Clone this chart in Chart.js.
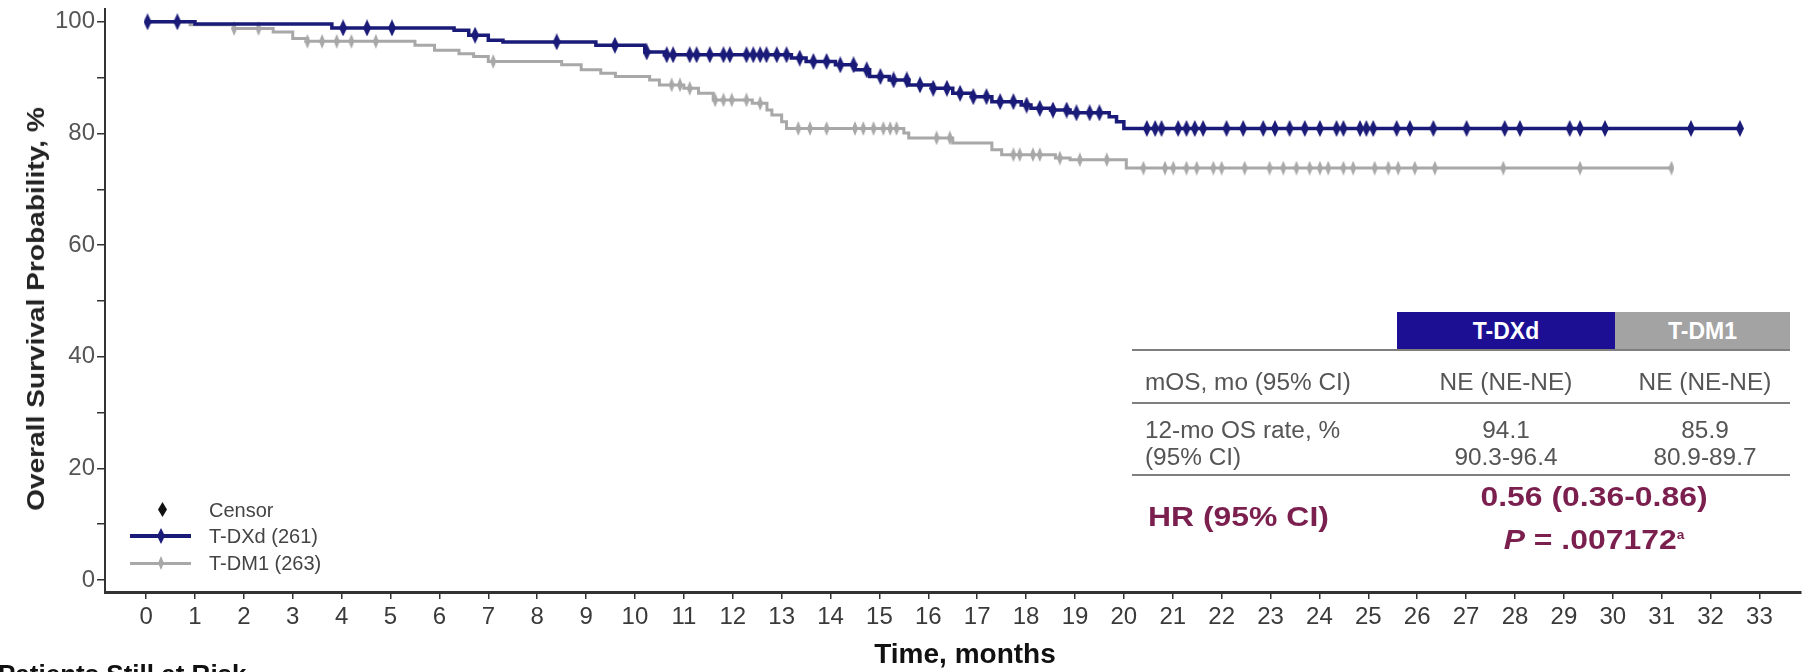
<!DOCTYPE html>
<html>
<head>
<meta charset="utf-8">
<script src="https://cdn.jsdelivr.net/npm/chart.js@4.4.0/dist/chart.umd.min.js"></script>
<style>
  body { margin: 0; background: #fff; }
  #wrap { position: relative; width: 1811px; height: 672px; overflow: hidden; font-family: 'Liberation Sans', Arial, sans-serif; }
  #chart { position: absolute; left: 0; top: 0; }
  .abs { position: absolute; white-space: nowrap; }
  .row { font-size: 23px; line-height: 26px; color: #555; transform: scaleX(1.06); transform-origin: left center; }
  .ctr { width: 200px; text-align: center; transform-origin: center center; }
  .hr { font-size: 28px; line-height: 32px; font-weight: bold; color: #7b1f4e; transform: scaleX(1.14); }
  .rule { position: absolute; left: 1132px; width: 658px; height: 2px; background: #7f7f7f; }
  .lg { font-size: 20px; line-height: 24px; color: #444; }
  .mk { position: absolute; clip-path: polygon(50% 0, 100% 50%, 50% 100%, 0 50%); }
</style>
</head>
<body>
<div id="wrap">
  <canvas id="chart" width="1811" height="672"></canvas>

  <!-- axis titles -->
  <div class="abs" style="left:36px;top:309px;font-weight:bold;font-size:24px;color:#222;transform:translate(-50%,-50%) rotate(-90deg) scaleX(1.17);">Overall Survival Probability, %</div>
  <div class="abs" style="left:965px;top:654px;font-weight:bold;font-size:28px;color:#111;transform:translate(-50%,-50%);">Time, months</div>

  <!-- legend -->
  <div class="mk" style="left:158px;top:502px;width:9px;height:15px;background:#111;"></div>
  <div class="abs lg" style="left:209px;top:498px;">Censor</div>
  <div class="abs" style="left:130px;top:534px;width:61px;height:4px;background:#1a1a78;"></div>
  <div class="mk" style="left:157px;top:528px;width:8px;height:16px;background:#1a1a78;"></div>
  <div class="abs lg" style="left:209px;top:524px;">T-DXd (261)</div>
  <div class="abs" style="left:130px;top:562px;width:61px;height:3px;background:#a8a8a8;"></div>
  <div class="mk" style="left:158px;top:556px;width:6px;height:14px;background:#a8a8a8;"></div>
  <div class="abs lg" style="left:209px;top:551px;">T-DM1 (263)</div>

  <!-- summary table -->
  <div class="abs" style="left:1397px;top:312px;width:218px;height:38px;background:#1c0f94;color:#fff;font-weight:bold;font-size:23px;line-height:38px;text-align:center;">T-DXd</div>
  <div class="abs" style="left:1615px;top:312px;width:175px;height:38px;background:#a3a3a3;color:#fff;font-weight:bold;font-size:23px;line-height:38px;text-align:center;">T-DM1</div>
  <div class="rule" style="top:349px;"></div>
  <div class="rule" style="top:402px;"></div>
  <div class="rule" style="top:474px;"></div>

  <div class="abs row" style="left:1145px;top:369px;">mOS, mo (95% CI)</div>
  <div class="abs row ctr" style="left:1406px;top:369px;">NE (NE-NE)</div>
  <div class="abs row ctr" style="left:1605px;top:369px;">NE (NE-NE)</div>

  <div class="abs row" style="left:1145px;top:417px;">12-mo OS rate, %</div>
  <div class="abs row" style="left:1145px;top:444px;">(95% CI)</div>
  <div class="abs row ctr" style="left:1406px;top:417px;">94.1</div>
  <div class="abs row ctr" style="left:1406px;top:444px;">90.3-96.4</div>
  <div class="abs row ctr" style="left:1605px;top:417px;">85.9</div>
  <div class="abs row ctr" style="left:1605px;top:444px;">80.9-89.7</div>

  <div class="abs hr" style="left:1148px;top:501px;transform-origin:left center;">HR (95% CI)</div>
  <div class="abs hr" style="left:1394px;top:481px;width:400px;text-align:center;">0.56 (0.36-0.86)</div>
  <div class="abs hr" style="left:1394px;top:519px;width:400px;text-align:center;"><i>P</i> = .007172<sup style="font-size:12px;">a</sup></div>

  <div class="abs" style="left:-2px;top:661px;font-weight:bold;font-size:26px;line-height:26px;color:#111;">Patients Still at Risk</div>
</div>

<script>
// Kaplan-Meier steps (months, OS %)
const tdxdTime = [0, 1.0, 3.8, 6.3, 6.6, 7.0, 7.3, 9.2, 10.2, 10.6, 13.2, 13.5, 14.1, 14.5, 14.8, 15.2, 15.6, 16.1, 16.5, 16.9, 17.3, 17.9, 18.1, 18.5, 18.9, 19.7, 19.85, 20.0, 32.6];
const tdxdSurv = [100, 99.6, 98.9, 98.5, 97.6, 96.7, 96.4, 95.8, 94.6, 94.1, 93.5, 92.9, 92.3, 91.4, 90.2, 89.6, 88.7, 88.1, 87.2, 86.6, 85.7, 85.1, 84.5, 84.2, 83.7, 83.0, 82.1, 80.9, 80.9];

const tdm1Time = [0, 0.9, 1.8, 2.6, 3.0, 3.3, 5.5, 5.9, 6.4, 6.7, 7.0, 8.5, 8.9, 9.3, 9.6, 10.3, 10.5, 11.0, 11.3, 11.6, 12.4, 12.7, 12.8, 13.0, 13.1, 15.5, 15.6, 16.5, 17.3, 17.5, 18.6, 18.9, 20.05, 31.2];
const tdm1Surv = [100, 99.5, 98.8, 98.2, 97.0, 96.5, 95.8, 94.9, 94.3, 93.8, 92.9, 92.3, 91.4, 90.8, 90.2, 89.6, 88.7, 88.1, 87.2, 86.0, 85.4, 84.2, 83.3, 82.1, 80.9, 80.1, 79.2, 78.3, 77.1, 76.2, 75.6, 75.3, 73.8, 73.8];

// censor times (months)
const tdxdCensor = [0.03, 0.64, 4.03, 4.52, 5.03, 6.73, 8.4, 9.59, 10.24, 10.65, 10.78, 11.12, 11.26, 11.53, 11.81, 11.94, 12.28, 12.42, 12.56, 12.69, 12.9, 13.1, 13.37, 13.65, 13.92, 14.2, 14.47, 14.74, 15.02, 15.29, 15.56, 15.83, 16.1, 16.38, 16.65, 16.92, 17.19, 17.47, 17.74, 18.01, 18.28, 18.55, 18.83, 19.03, 19.3, 19.5, 20.47, 20.64, 20.77, 21.11, 21.28, 21.45, 21.62, 22.1, 22.44, 22.85, 23.09, 23.39, 23.7, 24.01, 24.35, 24.49, 24.83, 24.96, 25.1, 25.58, 25.85, 26.33, 27.01, 27.79, 28.1, 29.12, 29.33, 29.84, 31.6, 32.6];
const tdm1Censor = [1.8, 2.3, 3.3, 3.6, 3.9, 4.2, 4.7, 7.1, 10.75, 10.92, 11.12, 11.64, 11.81, 11.98, 12.28, 12.56, 13.34, 13.58, 13.92, 14.5, 14.67, 14.88, 15.08, 15.22, 15.35, 16.17, 16.44, 17.74, 17.87, 18.14, 18.28, 18.69, 19.1, 19.65, 20.4, 20.84, 21.01, 21.28, 21.49, 21.83, 22.0, 22.47, 22.98, 23.26, 23.53, 23.8, 24.01, 24.18, 24.49, 24.69, 25.13, 25.41, 25.61, 25.95, 26.36, 27.76, 29.33, 31.2];

const NAVY = "#1a1a78";
const GREY = "#a8a8a8";
const TICK_FONT = "'Liberation Sans', Arial, sans-serif";

function steps(time, surv) {
  return time.map((t, i) => ({ x: t, y: surv[i] }));
}

// survival value of the curve at time t (last step at or before t)
function kmAt(time, surv, t) {
  let v = surv[0];
  for (let i = 0; i < time.length; i++) {
    if (time[i] <= t) v = surv[i];
  }
  return v;
}

function censorPoints(cens, time, surv) {
  return cens.map(t => ({ x: t, y: kmAt(time, surv, t) }));
}

// tall diamond used as censor mark
function makeMark(color, w, h) {
  const c = document.createElement("canvas");
  c.width = w;
  c.height = h;
  const g = c.getContext("2d");
  g.fillStyle = color;
  g.beginPath();
  g.moveTo(w / 2, 0);
  g.lineTo(w, h / 2);
  g.lineTo(w / 2, h);
  g.lineTo(0, h / 2);
  g.closePath();
  g.fill();
  return c;
}

const markNavy = makeMark(NAVY, 8, 17);
const markGrey = makeMark(GREY, 6, 15);

new Chart(document.getElementById("chart"), {
  type: "line",
  data: {
    datasets: [
      {
        label: "T-DXd censor",
        data: censorPoints(tdxdCensor, tdxdTime, tdxdSurv),
        showLine: false,
        pointStyle: markNavy,
        pointRadius: 8,
      },
      {
        label: "T-DXd (261)",
        data: steps(tdxdTime, tdxdSurv),
        stepped: "before",
        borderColor: NAVY,
        borderWidth: 3.5,
        pointRadius: 0,
        fill: false,
      },
      {
        label: "T-DM1 censor",
        data: censorPoints(tdm1Censor, tdm1Time, tdm1Surv),
        showLine: false,
        pointStyle: markGrey,
        pointRadius: 7,
      },
      {
        label: "T-DM1 (263)",
        data: steps(tdm1Time, tdm1Surv),
        stepped: "before",
        borderColor: GREY,
        borderWidth: 3,
        pointRadius: 0,
        fill: false,
      },
    ],
  },
  options: {
    responsive: false,
    animation: false,
    layout: { padding: { top: 7, right: 10, left: 0, bottom: 0 } },
    plugins: { legend: { display: false }, tooltip: { enabled: false } },
    scales: {
      x: {
        type: "linear",
        min: -0.84,
        max: 33.85,
        afterFit: s => { s.height = 80; },
        border: { display: true, color: "#333", width: 3 },
        grid: { drawOnChartArea: false, drawTicks: true, tickLength: 7, color: "#333", lineWidth: 1.5 },
        ticks: { stepSize: 1, includeBounds: false, padding: 4, color: "#3a3a3a", font: { family: TICK_FONT, size: 24 } },
      },
      y: {
        min: -2.15,
        max: 102.3,
        afterFit: s => {
          s.width = 105;
          s.paddingTop = 0;
          s.paddingBottom = 0;
        },
        border: { display: true, color: "#333", width: 2 },
        grid: { drawOnChartArea: false, drawTicks: true, tickLength: 8, color: "#333", lineWidth: 1.5 },
        ticks: {
          stepSize: 10,
          includeBounds: false,
          padding: 2,
          color: "#555",
          font: { family: TICK_FONT, size: 24 },
          callback: v => (v % 20 === 0 ? v : ""),
        },
      },
    },
  },
});
</script>
</body>
</html>
